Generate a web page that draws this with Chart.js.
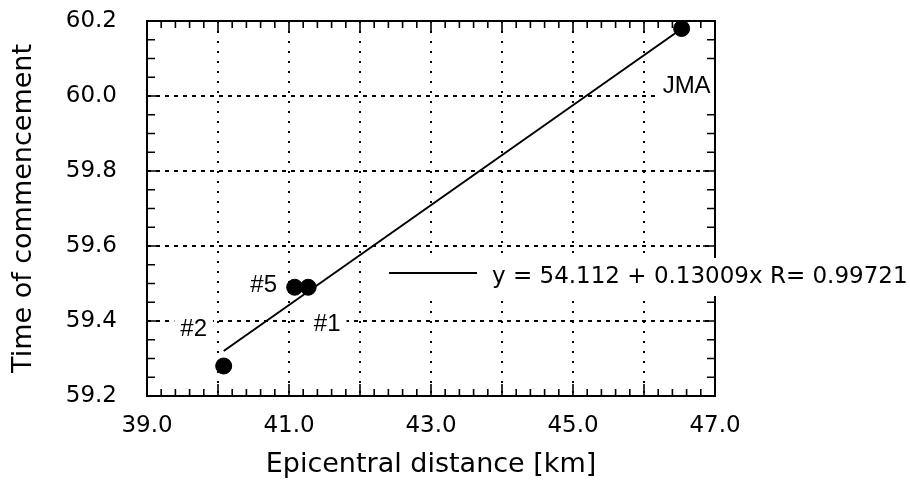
<!DOCTYPE html>
<html>
<head>
<meta charset="utf-8">
<script src="https://cdn.jsdelivr.net/npm/chart.js@4.4.0/dist/chart.umd.min.js"></script>
<style>
  html, body { margin: 0; padding: 0; background: #fff; }
  #wrap { width: 910px; height: 495px; }
</style>
</head>
<body>
<div id="wrap"><canvas id="fitChart"></canvas></div>
<script>
// Station readings
var stations = ['#1', '#2', '#5', 'JMA'];
var distance = [41.27, 40.08, 41.08, 46.53];
var commencement = [59.49, 59.28, 59.49, 60.18];

// Regression line (end points as drawn)
var fitX = [40.08, 46.46];
var fitY = [59.32, 60.17];
var fitLabel = 'y = 54.112 + 0.13009x R= 0.99721';

// Axes
var xRange = [39, 47];
var yRange = [59.2, 60.2];
var xTickLabels = [39, 41, 43, 45, 47];

// where each station name sits relative to its dot (px)
var labelOffset = { '#1': [19, 36], '#2': [-30, -38], '#5': [-31, -3], 'JMA': [5, 57] };

var frame = {
  id: 'frame',
  afterDraw: function(chart) {
    var ctx = chart.ctx, a = chart.chartArea;
    var xs = chart.scales.x, ys = chart.scales.y;
    ctx.save();
    ctx.strokeStyle = '#000';
    ctx.lineWidth = 1.6;

    // inward tick marks, all four sides
    ctx.beginPath();
    for (var i = 0; i <= 40; i++) {
      var px = xs.getPixelForValue(xRange[0] + i * 0.2);
      var len = (i % 5 === 0) ? 12 : 7;
      ctx.moveTo(px, a.bottom); ctx.lineTo(px, a.bottom - len);
      ctx.moveTo(px, a.top); ctx.lineTo(px, a.top + len);
    }
    for (var j = 0; j <= 20; j++) {
      var py = ys.getPixelForValue(yRange[0] + j * 0.05);
      var l2 = (j % 4 === 0) ? 12 : 8;
      ctx.moveTo(a.left, py); ctx.lineTo(a.left + l2, py);
      ctx.moveTo(a.right, py); ctx.lineTo(a.right - l2, py);
    }
    ctx.stroke();

    // station names
    ctx.font = '24px "Liberation Sans", Arial, sans-serif';
    ctx.textAlign = 'center';
    ctx.textBaseline = 'middle';
    stations.forEach(function(name, k) {
      var off = labelOffset[name];
      var cx = xs.getPixelForValue(distance[k]) + off[0];
      var cy = ys.getPixelForValue(commencement[k]) + off[1];
      var w = ctx.measureText(name).width;
      ctx.fillStyle = '#fff';
      ctx.fillRect(cx - w / 2 - 6, cy - 12, w + 12, 24);
      ctx.fillStyle = '#000';
      ctx.fillText(name, cx, cy + 1);
    });

    // plot frame
    ctx.lineWidth = 2;
    ctx.strokeRect(a.left, a.top, a.right - a.left, a.bottom - a.top);

    // fit legend, sits across the right border
    var ly = 273;
    ctx.fillStyle = '#fff';
    ctx.fillRect(383, 258, 527, 38);
    ctx.beginPath();
    ctx.lineWidth = 2;
    ctx.moveTo(389, ly); ctx.lineTo(477, ly);
    ctx.stroke();
    ctx.fillStyle = '#000';
    ctx.font = '23px "DejaVu Sans", sans-serif';
    ctx.textAlign = 'left';
    ctx.fillText(fitLabel, 492, ly + 4);
    ctx.restore();
  }
};

var ctx1 = document.getElementById('fitChart').getContext('2d');
var fitChart = new Chart(ctx1, {
  type: 'scatter',
  data: {
    datasets: [{
      label: 'stations',
      data: distance.map(function(d, i) { return { x: d, y: commencement[i] }; }),
      backgroundColor: '#000',
      borderColor: '#000',
      pointRadius: 8,
      pointHoverRadius: 8
    }, {
      label: 'fit',
      type: 'line',
      data: fitX.map(function(d, i) { return { x: d, y: fitY[i] }; }),
      borderColor: '#000',
      borderWidth: 2,
      pointRadius: 0,
      fill: false
    }]
  },
  options: {
    responsive: true,
    maintainAspectRatio: false,
    animation: false,
    layout: { padding: { top: 21, right: 195, left: 0, bottom: 0 } },
    plugins: { legend: { display: false }, tooltip: { enabled: false } },
    scales: {
      x: {
        type: 'linear',
        min: xRange[0],
        max: xRange[1],
        afterFit: function(s) { s.height = 99; s.paddingLeft = 0; s.paddingRight = 0; },
        grid: { color: '#000', lineWidth: 2, drawTicks: false },
        border: { display: false, dash: [2, 8] },
        ticks: {
          stepSize: 1,
          autoSkip: false,
          maxRotation: 0,
          padding: 16,
          color: '#000',
          font: { family: 'DejaVu Sans', size: 23 },
          callback: function(v) { return xTickLabels.indexOf(v) >= 0 ? v.toFixed(1) : ''; }
        },
        title: {
          display: true,
          text: 'Epicentral distance [km]',
          color: '#000',
          font: { family: 'DejaVu Sans', size: 27 },
          padding: { top: 0, bottom: 14 }
        }
      },
      y: {
        type: 'linear',
        min: yRange[0],
        max: yRange[1],
        afterFit: function(s) { s.width = 147; s.paddingTop = 0; s.paddingBottom = 0; },
        grid: { color: '#000', lineWidth: 2, drawTicks: false },
        border: { display: false, dash: [4, 5] },
        ticks: {
          stepSize: 0.2,
          padding: 30,
          color: '#000',
          font: { family: 'DejaVu Sans', size: 23 },
          callback: function(v) { return v.toFixed(1); }
        },
        title: {
          display: true,
          text: 'Time of commencement',
          color: '#000',
          font: { family: 'DejaVu Sans', size: 27 },
          padding: { top: 8, bottom: 0 }
        }
      }
    }
  },
  plugins: [frame]
});
</script>
</body>
</html>
